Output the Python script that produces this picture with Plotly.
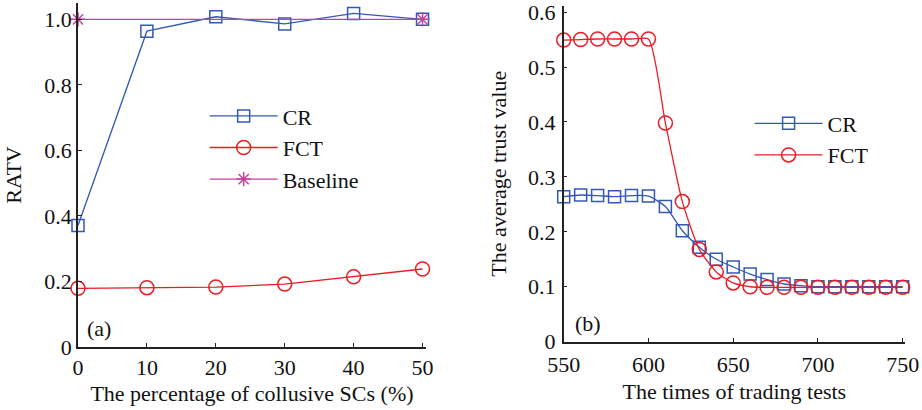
import plotly.graph_objects as go

# Panel (a)
pct = [0, 10, 20, 30, 40, 50]
cr_a = [0.371, 0.964, 1.008, 0.986, 1.018, 1.0]
fct_a = [0.179, 0.181, 0.183, 0.192, 0.214, 0.238]
base_x = [0, 50]
base_y = [1.0, 1.0]

# Panel (b)
tests = [550, 560, 570, 580, 590, 600, 610, 620, 630, 640, 650, 660, 670,
         680, 690, 700, 710, 720, 730, 740, 750]
cr_b = [0.264, 0.267, 0.266, 0.264, 0.266, 0.265, 0.246, 0.202, 0.172, 0.150,
        0.136, 0.123, 0.113, 0.105, 0.102, 0.100, 0.100, 0.100, 0.100, 0.100, 0.100]
fct_b = [0.549, 0.550, 0.551, 0.551, 0.551, 0.551, 0.398, 0.255, 0.168, 0.127,
         0.107, 0.100, 0.099, 0.099, 0.099, 0.099, 0.099, 0.099, 0.099, 0.099, 0.099]

BLUE = "#3358b5"
RED = "#ec1c24"
MAG = "#c8419e"
FONT = "Liberation Serif"

fig = go.Figure()
fig.add_trace(go.Scatter(x=pct, y=cr_a, name="CR", mode="lines+markers",
                         line=dict(color=BLUE, width=1.3),
                         marker=dict(symbol="square-open", size=12, color=BLUE, line=dict(width=1.5)),
                         cliponaxis=False, legend="legend", xaxis="x", yaxis="y"))
fig.add_trace(go.Scatter(x=pct, y=fct_a, name="FCT", mode="lines+markers",
                         line=dict(color=RED, width=1.3),
                         marker=dict(symbol="circle-open", size=14, color=RED, line=dict(width=1.5)),
                         cliponaxis=False, legend="legend", xaxis="x", yaxis="y"))
fig.add_trace(go.Scatter(x=base_x, y=base_y, name="Baseline", mode="lines+markers",
                         line=dict(color=MAG, width=1.3),
                         marker=dict(symbol="asterisk-open", size=12, color=MAG, line=dict(width=1.5, color=MAG)),
                         cliponaxis=False, legend="legend", xaxis="x", yaxis="y"))

fig.add_trace(go.Scatter(x=tests, y=cr_b, name="CR", mode="lines+markers",
                         line=dict(color=BLUE, width=1.3, shape="spline", smoothing=0.6),
                         marker=dict(symbol="square-open", size=12, color=BLUE, line=dict(width=1.5)),
                         cliponaxis=False, legend="legend2", xaxis="x2", yaxis="y2"))
fig.add_trace(go.Scatter(x=tests, y=fct_b, name="FCT", mode="lines+markers",
                         line=dict(color=RED, width=1.3, shape="spline", smoothing=0.6),
                         marker=dict(symbol="circle-open", size=14, color=RED, line=dict(width=1.5)),
                         cliponaxis=False, legend="legend2", xaxis="x2", yaxis="y2"))

axis_common = dict(showline=True, linecolor="#222", linewidth=1.5, ticks="inside",
                   ticklen=4, tickcolor="#222", showgrid=False, zeroline=False, automargin=False,
                   ticklabeloverflow="allow",
                   tickfont=dict(family=FONT, size=22, color="#111"),
                   title_font=dict(family=FONT, size=22, color="#111"))

fig.update_layout(
    width=922, height=410, margin=dict(l=0, r=0, t=0, b=0),
    paper_bgcolor="white", plot_bgcolor="white",
    font=dict(family=FONT, size=22, color="#111"),
    xaxis=dict(domain=[0.0846, 0.462], range=[0, 50.5], tickvals=[0, 10, 20, 30, 40, 50],
               title=dict(text="The percentage of collusive SCs (%)", standoff=6),
               ticklabelstandoff=0, anchor="y", **axis_common),
    yaxis=dict(domain=[0.1537, 0.9927], range=[0, 1.05],
               tickvals=[0, 0.2, 0.4, 0.6, 0.8, 1.0], ticktext=["0", "0.2", "0.4", "0.6", "0.8", "1.0"],
               title=dict(text="RATV", standoff=17), ticklabelstandoff=0, anchor="x", **axis_common),
    xaxis2=dict(domain=[0.6114, 0.9816], range=[550, 751.4], tickvals=[550, 600, 650, 700, 750],
                title=dict(text="The times of trading tests", standoff=8),
                ticklabelstandoff=2, anchor="y2", **axis_common),
    yaxis2=dict(domain=[0.1666, 0.986], range=[0, 0.6115],
                tickvals=[0, 0.1, 0.2, 0.3, 0.4, 0.5, 0.6],
                ticktext=["0", "0.1", "0.2", "0.3", "0.4", "0.5", "0.6"],
                title=dict(text="The average trust value", standoff=15), ticklabelstandoff=2,
                anchor="x2", **axis_common),
    legend=dict(x=0.222, y=0.768, xanchor="left", yanchor="top", bgcolor="rgba(0,0,0,0)",
                font=dict(family=FONT, size=22), itemwidth=68, tracegroupgap=0),
    legend2=dict(x=0.813, y=0.75, xanchor="left", yanchor="top", bgcolor="rgba(0,0,0,0)",
                 font=dict(family=FONT, size=22), itemwidth=68, tracegroupgap=0),
    annotations=[
        dict(text="(a)", x=0.092, y=0.2, xref="paper", yref="paper", xanchor="left",
             yanchor="middle", showarrow=False, font=dict(family=FONT, size=22)),
        dict(text="(b)", x=0.622, y=0.21, xref="paper", yref="paper", xanchor="left",
             yanchor="middle", showarrow=False, font=dict(family=FONT, size=22)),
    ],
)

fig.write_html("out.html")
